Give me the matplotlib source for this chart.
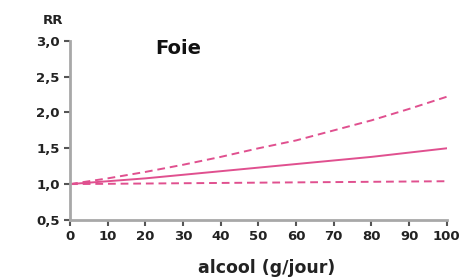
import matplotlib.pyplot as plt

alcool = [0, 10, 20, 30, 40, 50, 60, 70, 80, 90, 100]
rr_mid = [1.0, 1.04, 1.08, 1.13, 1.18, 1.23, 1.28, 1.33, 1.38, 1.44, 1.5]
rr_high = [1.0, 1.08, 1.17, 1.27, 1.38, 1.5, 1.61, 1.75, 1.89, 2.05, 2.22]
rr_low = [1.0, 1.004, 1.008, 1.012, 1.016, 1.02, 1.024, 1.028, 1.032, 1.036, 1.04]
yticks = [0.5, 1.0, 1.5, 2.0, 2.5, 3.0]
ylabels = ["0,5", "1,0", "1,5", "2,0", "2,5", "3,0"]

col = "#e0508f"
fig = plt.figure(figsize=(4.64, 2.78), dpi=100)
ax = fig.add_axes([0.151, 0.209, 0.812, 0.644])
ax.plot(alcool, rr_mid, color=col, lw=1.4)
ax.plot(alcool, rr_high, color=col, lw=1.4, ls=(0, (4, 2.5)))
ax.plot(alcool, rr_low, color=col, lw=1.4, ls=(0, (4, 2.5)))

ax.set_xlim(0, 100)
ax.set_ylim(0.5, 3.0)
ax.set_xticks(range(0, 101, 10))
ax.set_yticks(yticks)
ax.set_yticklabels(ylabels)
for s in ["top", "right"]:
    ax.spines[s].set_visible(False)
for s in ["left", "bottom"]:
    ax.spines[s].set_color("#a8a8a8")
    ax.spines[s].set_linewidth(2)
ax.tick_params(direction="out", length=4, width=1.5, color="#555555",
               labelsize=9.5, labelcolor="#222222")
for t in ax.get_xticklabels() + ax.get_yticklabels():
    t.set_fontweight("bold")

fig.text(178 / 464, 1 - 48 / 278, "Foie", fontsize=14,
         fontweight="bold", color="#111111", ha="center", va="center")
fig.text(53 / 464, 1 - 20 / 278, "RR", fontsize=9.5, fontweight="bold",
         color="#222222", ha="center", va="center")
fig.text(267 / 464, 1 - 268 / 278, "alcool (g/jour)", fontsize=12.5,
         fontweight="bold", color="#222222", ha="center", va="center")

fig.savefig("out.png", dpi=100)
